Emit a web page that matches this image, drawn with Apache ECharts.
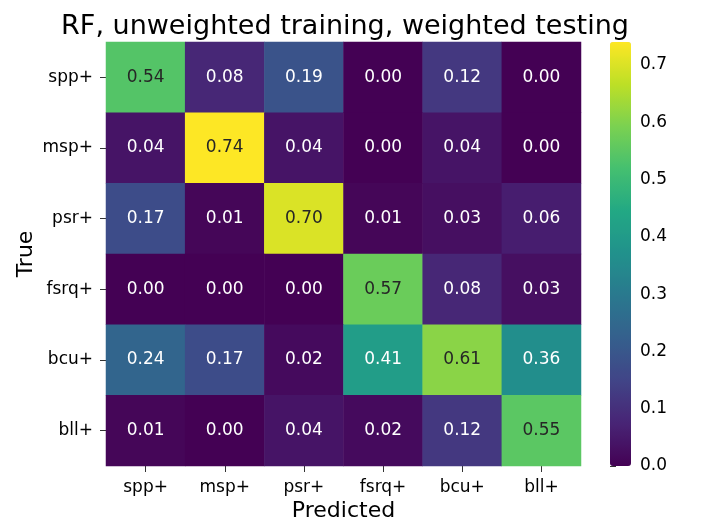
<!DOCTYPE html>
<html>
<head>
<meta charset="utf-8">
<script src="https://cdn.jsdelivr.net/npm/echarts@6/dist/echarts.min.js"></script>
<style>
  html, body { margin: 0; padding: 0; background: #fff; }
  #chart { width: 706px; height: 530px; }
</style>
</head>
<body>
<div id="chart"></div>
<script>
// confusion matrix, rows = true class, cols = predicted class
const classes = ['spp+', 'msp+', 'psr+', 'fsrq+', 'bcu+', 'bll+']
const rowSpp = [0.54, 0.08, 0.19, 0.00, 0.12, 0.00]
const rowMsp = [0.04, 0.74, 0.04, 0.00, 0.04, 0.00]
const rowPsr = [0.17, 0.01, 0.70, 0.01, 0.03, 0.06]
const rowFsrq = [0.00, 0.00, 0.00, 0.57, 0.08, 0.03]
const rowBcu = [0.24, 0.17, 0.02, 0.41, 0.61, 0.36]
const rowBll = [0.01, 0.00, 0.04, 0.02, 0.12, 0.55]
const colorbarTicks = [0, 0.1, 0.2, 0.3, 0.4, 0.5, 0.6, 0.7]
const vMin = 0
const vMax = 0.74

const viridis = ['#440154', '#482475', '#414487', '#355f8d', '#2a788e', '#21918c',
  '#22a884', '#44bf70', '#7ad151', '#bddf26', '#fde725']

const rows = [rowSpp, rowMsp, rowPsr, rowFsrq, rowBcu, rowBll]
let data = []
rows.forEach((row, y) => {
  row.forEach((v, x) => {
    data.push({
      value: [x, y, v],
      label: { color: v >= 0.45 ? '#262626' : '#ffffff' }
    })
  })
})

const font = 'DejaVu Sans'
let chart = echarts.init(document.getElementById('chart'))
chart.setOption({
  animation: false,
  textStyle: { fontFamily: font },
  title: {
    text: 'RF, unweighted training, weighted testing',
    left: 340,
    top: 8,
    textAlign: 'center',
    textStyle: { fontFamily: font, fontSize: 27, fontWeight: 'normal', color: '#000' }
  },
  grid: [
    { left: 106, right: 125, top: 42, bottom: 64 },
    { left: 610, width: 21, top: 42, bottom: 64 }
  ],
  xAxis: [{
    type: 'category',
    data: classes,
    gridIndex: 0,
    name: 'Predicted',
    nameLocation: 'middle',
    nameGap: 34,
    nameMoveOverlap: false,
    nameTextStyle: { fontFamily: font, fontSize: 22, color: '#000', verticalAlign: 'top' },
    axisLine: { show: false },
    axisTick: { show: true, alignWithLabel: true, length: 6, lineStyle: { color: '#333' } },
    axisLabel: { fontSize: 17, color: '#000', margin: 13 },
    splitArea: { show: false }
  }, {
    type: 'value',
    gridIndex: 1,
    show: false,
    min: 0,
    max: 1
  }],
  yAxis: [{
    type: 'category',
    data: classes,
    inverse: true,
    gridIndex: 0,
    name: 'True',
    nameLocation: 'middle',
    nameGap: 69,
    nameMoveOverlap: false,
    nameTextStyle: { fontFamily: font, fontSize: 22, color: '#000' },
    axisLine: { show: false },
    axisTick: { show: true, alignWithLabel: true, length: 6, lineStyle: { color: '#333' } },
    axisLabel: { fontSize: 17, color: '#000', margin: 13 }
  }, {
    type: 'value',
    gridIndex: 1,
    position: 'right',
    min: vMin,
    max: vMax,
    axisLine: { show: false },
    splitLine: { show: false },
    axisTick: { show: true, length: 6, customValues: colorbarTicks, lineStyle: { color: '#333' } },
    axisLabel: {
      fontSize: 17, color: '#000', margin: 9,
      customValues: colorbarTicks,
      formatter: v => v.toFixed(1)
    }
  }],
  visualMap: {
    type: 'continuous',
    min: vMin,
    max: vMax,
    seriesIndex: 0,
    calculable: false,
    hoverLink: false,
    indicatorIcon: 'none',
    indicatorSize: 0,
    left: 610,
    top: 42,
    padding: 0,
    itemWidth: 21,
    itemHeight: 424,
    inRange: { color: viridis }
  },
  series: [{
    type: 'heatmap',
    xAxisIndex: 0,
    yAxisIndex: 0,
    data: data,
    label: {
      show: true,
      fontSize: 17,
      fontFamily: font,
      formatter: p => p.value[2].toFixed(2)
    },
    itemStyle: { borderWidth: 0 },
    emphasis: { disabled: true }
  }, {
    type: 'scatter',
    xAxisIndex: 1,
    yAxisIndex: 1,
    data: []
  }]
})
</script>
</body>
</html>
